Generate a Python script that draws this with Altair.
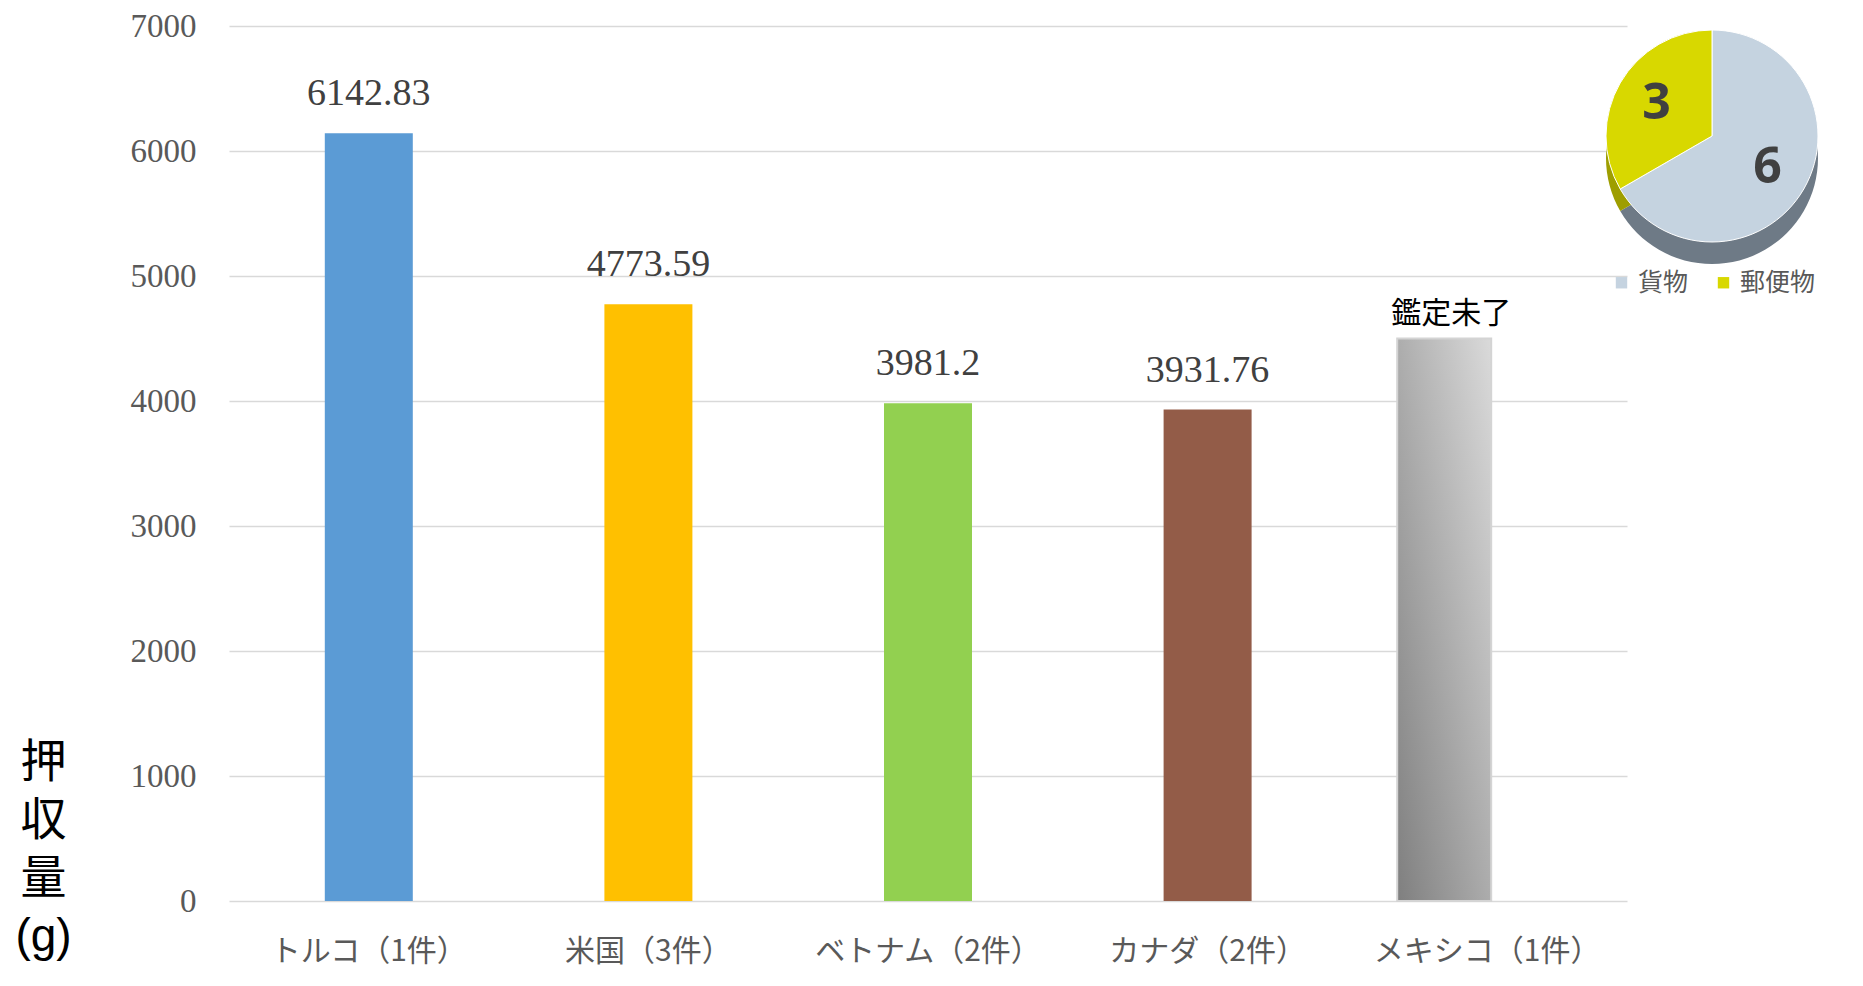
import altair as alt
import pandas as pd

countries = ["トルコ（1件）", "米国（3件）", "ベトナム（2件）", "カナダ（2件）", "メキシコ（1件）"]
values = [6142.83, 4773.59, 3981.2, 3931.76]
value_labels = ["6142.83", "4773.59", "3981.2", "3931.76"]
bar_colors = ["#5B9BD5", "#FFC000", "#92D050", "#935C48"]
pending_country = "メキシコ（1件）"
pending_height = 4500
pending_label = "鑑定未了"

pie_types = ["貨物", "郵便物"]
pie_counts = [6, 3]
pie_top_colors = ["#C5D3E0", "#D8D800"]
pie_side_colors = ["#6E7A86", "#9E9E00"]

bars_df = pd.DataFrame({"country": countries[:4], "value": values, "label": value_labels})
pend_df = pd.DataFrame({"country": [pending_country], "value": [pending_height], "label": [pending_label]})
pie_df = pd.DataFrame({"type": pie_types, "count": pie_counts, "idx": [0, 1]})

W, H = 1398, 875

xenc = alt.X("country:N", sort=countries, scale=alt.Scale(domain=countries, paddingInner=0, paddingOuter=0),
             axis=alt.Axis(title=None, labelAngle=0, domain=False, ticks=False, labelFont="Noto Sans CJK JP",
                           labelFontSize=30, labelColor="#595959", labelPadding=35, labelLimit=0))
yenc = alt.Y("value:Q", scale=alt.Scale(domain=[0, 7000], nice=False),
             axis=alt.Axis(values=list(range(0, 7001, 1000)), format="d", domain=False, ticks=False,
                           gridColor="#D9D9D9", gridWidth=1.5,
                           labelFont="Liberation Serif", labelFontSize=33, labelColor="#595959", labelPadding=33,
                           title=["押", "収", "量", "(g)"], titleAngle=0,
                           titleFont="Liberation Sans, Noto Sans CJK JP",
                           titleFontSize=46, titleFontWeight="normal", titleColor="#000000",
                           titleLineHeight=58, titleAlign="center", titleBaseline="top",
                           titleX=-186, titleY=714))

bars = alt.Chart(bars_df).mark_bar(size=88).encode(
    x=xenc, y=yenc,
    color=alt.Color("country:N", scale=alt.Scale(domain=countries[:4], range=bar_colors), legend=None),
)
bar_text = alt.Chart(bars_df).mark_text(font="Liberation Serif", fontSize=38, color="#404040",
                                        baseline="alphabetic", dy=-28).encode(
    x=alt.X("country:N", sort=countries), y="value:Q", text="label:N")

grad = alt.Gradient(gradient="linear", x1=0, y1=1, x2=1, y2=0,
                    stops=[alt.GradientStop(offset=0, color="#7F7F7F"),
                           alt.GradientStop(offset=1, color="#DADADA")])
pend_bar = alt.Chart(pend_df).mark_bar(size=94, xOffset=-43, color=grad, stroke="#D4D4D4", strokeWidth=2).encode(
    x=alt.X("country:N", sort=countries), y="value:Q")
pend_text = alt.Chart(pend_df).mark_text(font="Noto Sans CJK JP", fontSize=30, color="#000000",
                                         baseline="alphabetic", dy=-16, xOffset=-36).encode(
    x=alt.X("country:N", sort=countries), y="value:Q", text="label:N")

cx, cy, R = 1483, 110, 106
pie_side = alt.Chart(pie_df).mark_arc(radius=R).encode(
    theta=alt.Theta("count:Q", stack=True), order=alt.Order("idx:Q"),
    color=alt.Color("type:N", scale=alt.Scale(domain=pie_types, range=pie_side_colors), legend=None),
    x=alt.value(cx), y=alt.value(cy + 22))
pie_top = alt.Chart(pie_df).mark_arc(radius=R, stroke="#FFFFFF", strokeWidth=1).encode(
    theta=alt.Theta("count:Q", stack=True), order=alt.Order("idx:Q"),
    color=alt.Color("type:N", scale=alt.Scale(domain=pie_types, range=pie_top_colors),
                    sort=pie_types,
                    legend=alt.Legend(title=None, orient="none", legendX=1380, legendY=244,
                                      direction="horizontal", symbolType="square", symbolSize=130,
                                      symbolStrokeWidth=0, labelFont="Noto Sans CJK JP", labelFontSize=25,
                                      labelColor="#595959", columnPadding=22, labelOffset=4)),
    x=alt.value(cx), y=alt.value(cy))
pie_text = alt.Chart(pie_df).mark_text(radius=64, font="Open Sans", fontSize=50, fontWeight="bold",
                                       color="#404040").encode(
    theta=alt.Theta("count:Q", stack=True), order=alt.Order("idx:Q"), text="count:Q",
    x=alt.value(cx), y=alt.value(cy))

chart = alt.layer(bars, bar_text, pend_bar, pend_text, pie_side, pie_top, pie_text).resolve_scale(
    color="independent", theta="shared"
).properties(
    width=W, height=H,
    autosize=alt.AutoSizeParams(type="none"),
    padding={"left": 221, "top": 18, "right": 224, "bottom": 75},
).configure_view(stroke=None)

chart.save("out.html", embed_options={"renderer": "svg", "actions": False})
